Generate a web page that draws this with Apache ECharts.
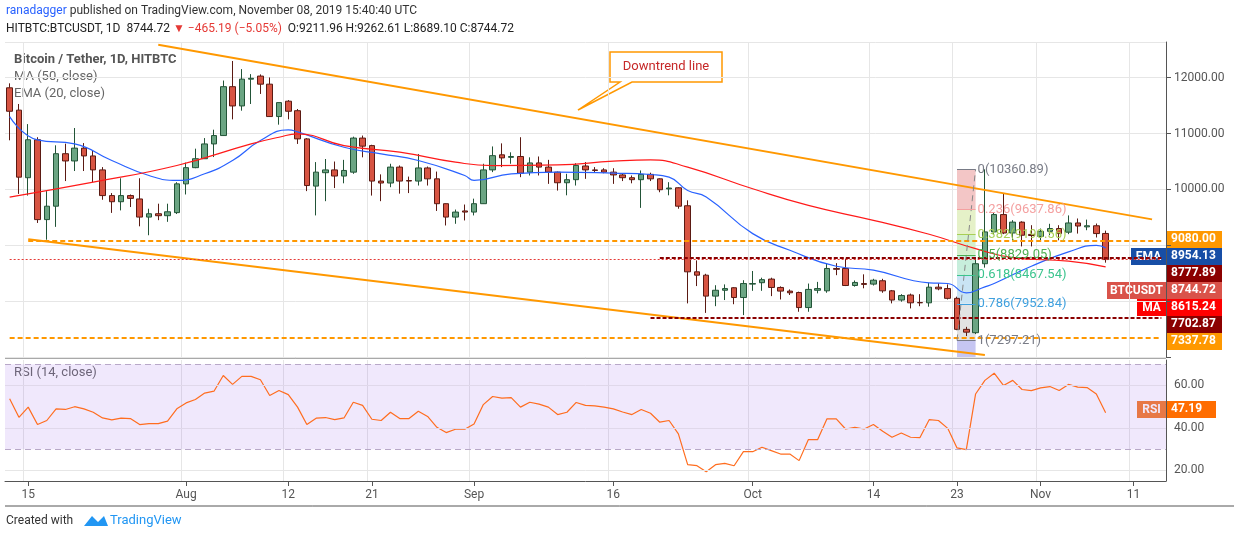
<!DOCTYPE html>
<html>
<head>
<meta charset="utf-8">
<script src="https://cdn.jsdelivr.net/npm/echarts@6/dist/echarts.min.js"></script>
<style>
  html, body { margin: 0; padding: 0; background: #fff; }
  #chart { width: 1234px; height: 540px; }
</style>
</head>
<body>
<div id="chart"></div>
<script>
// daily candles, Jul 13 .. Nov 8 2019
var opens = [11820,11420,10210,10890,9460,9700,10640,10510,10740,10600,10350,9890,9780,9890,9830,9505,9565,9530,9585,10100,10390,10550,10815,10965,11840,11495,11975,12030,11885,11305,11580,11410,
  10905,10060,10300,10350,10240,10310,10920,10785,10150,10115,10400,10160,10150,10385,10190,9745,9505,9615,9595,9745,10350,10620,10575,10590,10310,10475,10400,10310,10120,10175,10420,10350,10350,10310,10260,10210,10175,10270,10190,10010,10030,9708,
  8525,8465,8090,8195,8240,8065,8305,8330,8395,8245,8180,8155,7885,8195,8185,8585,8585,8280,8315,8305,8365,8185,8020,8110,7975,7970,8250,8225,8050,7495,7435,8670,
  9240,9550,9220,9415,9195,9160,9250,9300,9235,9400,9330,9350,9211.96];
var highs = [11900,11530,11170,10935,9970,10790,10820,11100,10830,10700,10400,9935,10200,9910,10200,9655,9745,9745,10130,10480,10730,10920,11070,11950,12300,12155,12065,12060,12005,11555,11600,11440,
  10920,10490,10545,10500,10530,10945,10965,10800,10270,10460,10430,10230,10635,10410,10320,9750,9640,9730,9835,10460,10770,10825,10665,10935,10575,10590,10530,10320,10280,10470,10490,10400,10380,10380,10290,10250,10340,10300,10200,10130,10040,9805,
  8730,8490,8285,8300,8250,8375,8540,8420,8420,8265,8210,8170,8315,8345,8675,8680,8760,8370,8480,8400,8400,8200,8125,8135,8125,8330,8320,8300,8080,7540,8790,10360,
  9590,9920,9450,9430,9360,9300,9385,9360,9535,9480,9460,9390,9262.61];
var lows = [10880,9920,9890,9400,9100,9330,10150,10330,10330,10130,9815,9580,9625,9685,9340,9180,9450,9420,9560,9910,10380,10545,10580,10960,11255,11410,11530,11710,11300,11160,11255,10815,
  9970,9535,9790,10025,10110,10280,10575,9890,9790,10040,9925,9935,10070,10070,9615,9355,9385,9445,9535,9740,10310,10400,10460,10220,10250,10250,10100,9980,9895,10070,10190,10300,10290,10100,10150,10110,9670,10150,9950,9895,9655,7960,
  8270,7790,7910,8020,7945,7750,8185,8185,8090,8030,8110,7810,7810,8140,8150,8465,8270,8260,8230,8280,8150,7960,7990,7870,7910,7900,8195,8030,7480,7375,7410,8600,
  9200,9200,9090,8980,8980,9090,9180,9090,9200,9210,9270,9140,8689.10];
var closes = [11400,10220,10890,9460,9700,10640,10510,10740,10600,10350,9890,9780,9890,9840,9505,9565,9530,9600,10100,10390,10550,10815,10965,11840,11495,11975,11990,11885,11305,11555,11400,10905,
  10070,10310,10350,10240,10340,10920,10775,10150,10115,10400,10150,10150,10385,10190,9745,9505,9595,9595,9745,10350,10605,10565,10590,10290,10475,10400,10310,10120,10175,10430,10350,10340,10310,10260,10210,10175,10270,10190,9995,10025,9700,8525,
  8465,8090,8195,8225,8065,8315,8315,8385,8245,8180,8150,7885,8210,8225,8585,8570,8280,8335,8300,8375,8185,8020,8100,7970,7970,8250,8220,8050,7495,7445,8670,9240,
  9550,9220,9415,9180,9175,9250,9300,9210,9400,9345,9350,9210,8744.72];

// MA(50) and EMA(20) read at points along the lines (day index from Jul 13)
var maDays  = [0,9,18,26,29,31,36,42,48,52,59,65,69,73,80,86,93,99,104,108,114,118];
var maVals  = [9864,10131,10429,10816,10935,10994,10786,10667,10488,10428,10440,10506,10530,10399,10012,9714,9447,9197,8940,8780,8715,8615.24];
var emaDays = [0,3,7,11,15,18,21,24,27,30,31,36,40,44,49,50,54,59,65,69,71,73,75,80,84,89,93,99,101,103,105,106,110,114,117,118];
var emaVals = [11304,10887,10816,10518,10250,10161,10280,10518,10875,11066,11030,10756,10637,10518,10250,10161,10280,10309,10292,10268,10220,9982,9863,9209,8911,8625,8554,8328,8316,8149,8256,8316,8625,8881,9000,8954.13];

// RSI(14) per day
var rsiVals = [53.7,45,49.8,41.6,43.5,49,48.7,50,49,47.4,44.7,43.8,44.6,44.4,41.6,42,42,43.2,49,51.8,53.4,56.4,57.3,64.7,60.5,64.3,64.3,62.7,55.3,57.6,55.7,49.8,41.6,44.6,44.9,43.9,44.7,52.1,50.6,44.1,43.5,47.4,44.4,44.4,47.9,45.4,40.3,37.8,39.4,39.4,41.9,51,54.8,54,54.3,49.8,52.1,51.2,49.8,46.3,47.4,52,50.6,50.4,49.8,
  49,47.5,46.3,48.7,46.9,42.7,43.5,37.2,22.7,22.2,19.4,22.7,23.3,22.2,28.8,28.8,30.9,29.3,27.7,27.7,24.6,34.5,34.5,44.3,44.3,39.5,40.3,39.5,41.6,38.4,35.6,37.6,35.6,35.4,43.9,43.5,39.8,30.6,29.8,56,62.4,65.8,60,62.4,58.1,57.6,58.9,59.5,57.6,60.5,59.2,59,56,47.19];

var tickDates = ['2019-07-15','2019-08-01','2019-08-12','2019-08-21','2019-09-01','2019-09-16','2019-10-01','2019-10-14','2019-10-23','2019-11-01','2019-11-11'];
var tickText  = ['15','Aug','12','21','Sep','16','Oct','14','23','Nov','11'];

var fibHigh = 10360.89, fibLow = 7297.21;
var fibRatios = [0, 0.236, 0.382, 0.5, 0.618, 0.786, 1];
var fibColors = ['#787b86','#f4a0a0','#a8cf55','#4caf50','#3cc48e','#3fa0de','#787b86'];
var fibFills  = ['#f3c6c6','#e5f1c8','#d4f0cc','#c7eedc','#c9e4f4','#e2e2e2'];

// categories Jul 13 .. Nov 14
var dates = [];
var d0 = Date.UTC(2019, 6, 13);
for (var i = 0; i < 125; i++) {
  var d = new Date(d0 + i * 86400000);
  dates.push(d.toISOString().slice(0, 10));
}

var candles = [];
for (var i = 0; i < opens.length; i++) candles.push([opens[i], closes[i], lows[i], highs[i]]);

function sparse(days, vals) {
  var out = dates.map(function () { return null; });
  days.forEach(function (dd, k) { out[dd] = vals[k]; });
  return out;
}

function fibPrice(r) { return fibHigh - r * (fibHigh - fibLow); }
function fmt(v) { return v.toFixed(2); }

var fibLines = [], fibAreas = [];
fibRatios.forEach(function (r, k) {
  var p = fibPrice(r);
  fibLines.push([
    { coord: ['2019-10-23', p], lineStyle: { color: fibColors[k], type: 'solid', width: 1 },
      label: { show: true, position: 'end', formatter: r + '(' + fmt(p) + ')', color: fibColors[k], fontSize: 13, distance: 2 } },
    { coord: ['2019-10-25', p] }
  ]);
  if (k < fibFills.length) {
    fibAreas.push([{ coord: ['2019-10-23', p], itemStyle: { color: fibFills[k] } }, { coord: ['2019-10-25', fibPrice(fibRatios[k + 1])] }]);
  }
});
fibAreas.push([{ coord: ['2019-10-23', fibLow], itemStyle: { color: '#c6c6f2' } }, { coord: ['2019-10-25', 7000] }]);

function seg(a, b, color, type, width) {
  return [{ coord: a, lineStyle: { color: color, type: type, width: width } }, { coord: b }];
}
var lastDay = dates[dates.length - 1];
var lines = [
  seg(['2019-07-29', 12589], ['2019-11-13', 9464], '#ff9800', 'solid', 2),
  seg(['2019-07-15', 9107], ['2019-10-26', 7036], '#ff9800', 'solid', 2),
  seg(['2019-07-15', 9080], [lastDay, 9080], '#ff9800', [5, 3], 2),
  seg([dates[0], 7337.78], [lastDay, 7337.78], '#ff9800', [5, 3], 2),
  seg(['2019-09-21', 8777.89], [lastDay, 8777.89], '#8b0000', [4, 2], 2),
  seg(['2019-09-20', 7702.87], [lastDay, 7702.87], '#8b0000', [4, 2], 2),
  seg([dates[0], 8744.72], [lastDay, 8744.72], '#e53935', [2, 2], 1),
  seg(['2019-10-23', fibLow], ['2019-10-25', fibHigh], '#888', [6, 4], 1)
].concat(fibLines);

function showTick(idx, val) { return tickDates.indexOf(val) >= 0; }

var chart = echarts.init(document.getElementById('chart'));
var font = 'Roboto, "Noto Sans", sans-serif';

function badge(y, text, color, w, x) {
  x = x || 1166;
  return { type: 'group', children: [
    { type: 'rect', shape: { x: x, y: y, width: w || 56, height: 17 }, style: { fill: color } },
    { type: 'text', x: x + 5, y: y + 2, style: { text: text, fill: '#fff', font: 'bold 12px ' + font } }
  ] };
}
function tag(x, y, w, text, color) {
  return { type: 'group', children: [
    { type: 'rect', shape: { x: x, y: y, width: w, height: 17 }, style: { fill: color } },
    { type: 'text', x: x + w / 2, y: y + 9, style: { text: text, fill: '#fff', font: 'bold 12px ' + font, textAlign: 'center', textVerticalAlign: 'middle' } }
  ] };
}

chart.setOption({
  animation: false,
  textStyle: { fontFamily: font },
  grid: [
    { left: 5, right: 68, top: 42, height: 315 },
    { left: 5, right: 68, top: 360, height: 121 }
  ],
  xAxis: [
    { type: 'category', data: dates, gridIndex: 0, boundaryGap: true,
      axisLine: { show: false }, axisTick: { show: false }, axisLabel: { show: false },
      splitLine: { show: true, interval: showTick, lineStyle: { color: '#e6e6e6' } } },
    { type: 'category', data: dates, gridIndex: 1, boundaryGap: true,
      axisLine: { lineStyle: { color: '#555' } }, axisTick: { show: true, interval: showTick, alignWithLabel: true, lineStyle: { color: '#555' } },
      axisLabel: { interval: showTick, color: '#555', fontSize: 12, margin: 8,
        formatter: function (v) { return tickText[tickDates.indexOf(v)]; } },
      splitLine: { show: true, interval: showTick, lineStyle: { color: '#e6e6e6' } } }
  ],
  yAxis: [
    { type: 'value', gridIndex: 0, position: 'right', min: 7000, max: 12640, interval: 1000,
      axisLine: { show: true, lineStyle: { color: '#555' } }, axisTick: { show: true, lineStyle: { color: '#555' } },
      axisLabel: { color: '#555', fontSize: 12, showMaxLabel: false,
        formatter: function (v) { return v >= 10000 ? v.toFixed(2) : ''; } },
      splitLine: { lineStyle: { color: '#e6e6e6' } } },
    { type: 'value', gridIndex: 1, position: 'right', min: 15, max: 72,
      axisLine: { show: true, lineStyle: { color: '#555' } }, axisTick: { show: false },
      axisLabel: { show: false }, splitLine: { show: false } }
  ],
  series: [
    { type: 'candlestick', xAxisIndex: 0, yAxisIndex: 0, data: candles, barWidth: 6,
      itemStyle: { color: '#6ba583', color0: '#d75442', borderColor: '#225437', borderColor0: '#5b1a13', borderWidth: 1 },
      markArea: { silent: true, data: fibAreas },
      markLine: { silent: true, symbol: 'none', label: { show: false }, data: lines } },
    { type: 'line', xAxisIndex: 0, yAxisIndex: 0, data: sparse(emaDays, emaVals), connectNulls: true, smooth: true,
      showSymbol: false, lineStyle: { color: '#2962ff', width: 1.2 }, z: 3 },
    { type: 'line', xAxisIndex: 0, yAxisIndex: 0, data: sparse(maDays, maVals), connectNulls: true, smooth: true,
      showSymbol: false, lineStyle: { color: '#ff1a1a', width: 1.2 }, z: 3 },
    { type: 'line', xAxisIndex: 1, yAxisIndex: 1, data: rsiVals, showSymbol: false,
      lineStyle: { color: '#ff6d1f', width: 1.2 },
      markArea: { silent: true, itemStyle: { color: 'rgba(155,100,235,0.15)' }, data: [[{ yAxis: 30 }, { yAxis: 70 }]] },
      markLine: { silent: true, symbol: 'none', data: [
        { yAxis: 70, lineStyle: { color: '#b8a8c8', type: [6, 4], width: 1 }, label: { show: false } },
        { yAxis: 30, lineStyle: { color: '#b8a8c8', type: [6, 4], width: 1 }, label: { show: false } },
        { yAxis: 60, lineStyle: { color: '#e0d8ea', type: 'solid', width: 1 }, label: { show: true, position: 'end', color: '#555', fontSize: 12, formatter: '60.00', distance: 8 } },
        { yAxis: 40, lineStyle: { color: '#e0d8ea', type: 'solid', width: 1 }, label: { show: true, position: 'end', color: '#555', fontSize: 12, formatter: '40.00', distance: 8 } },
        { yAxis: 20, lineStyle: { color: '#e6e6e6', type: 'solid', width: 1 }, label: { show: true, position: 'end', color: '#555', fontSize: 12, formatter: '20.00', distance: 8 } }
      ] } }
  ],
  graphic: [
    { type: 'text', left: 6, top: 5, style: { text: '{b|ranadagger} published on TradingView.com, November 08, 2019 15:40:40 UTC',
      font: '12px ' + font, fill: '#333', rich: { b: { fill: '#2962ff', font: '12px ' + font } } } },
    { type: 'text', left: 6, top: 23, style: { text: 'HITBTC:BTCUSDT, 1D  8744.72 {r|▼ −465.19 (−5.05%)}  O:9211.96 H:9262.61 L:8689.10 C:8744.72',
      font: '12px ' + font, fill: '#222', rich: { r: { fill: '#e53935', font: '12px ' + font } } } },
    { type: 'text', left: 14, top: 53, style: { text: 'Bitcoin / Tether, 1D, HITBTC', font: 'bold 13px ' + font, fill: '#555' } },
    { type: 'text', left: 14, top: 70, style: { text: 'MA (50, close)', font: '13px ' + font, fill: '#666' } },
    { type: 'text', left: 14, top: 87, style: { text: 'EMA (20, close)', font: '13px ' + font, fill: '#666' } },
    { type: 'text', left: 14, top: 366, style: { text: 'RSI (14, close)', font: '13px ' + font, fill: '#666' } },
    { type: 'polygon', shape: { points: [[610, 52], [722, 52], [722, 82], [632, 82], [578, 110], [620, 82], [610, 82]] },
      style: { fill: '#fff', stroke: '#ff9800', lineWidth: 1.5 } },
    { type: 'text', x: 666, y: 67, style: { text: 'Downtrend line', font: '13px ' + font, fill: '#c62828', textAlign: 'center', textVerticalAlign: 'middle' } },
    badge(231, '9080.00', '#ff9800'),
    badge(248, '8954.13', '#174ea6'),
    tag(1131, 248, 35, 'EMA', '#174ea6'),
    badge(265, '8777.89', '#8b0000'),
    badge(282, '8744.72', '#d9534a'),
    tag(1107, 282, 59, 'BTCUSDT', '#d9534a'),
    badge(299, '8615.24', '#ff0000'),
    tag(1137, 299, 29, 'MA', '#ff0000'),
    badge(316, '7702.87', '#8b0000'),
    badge(333, '7337.78', '#ff9800'),
    badge(401, '47.19', '#ff6d00', 50),
    tag(1137, 401, 29, 'RSI', '#f57c2a'),
    { type: 'line', shape: { x1: 5, y1: 358, x2: 1166, y2: 358 }, style: { stroke: '#555', lineWidth: 1 } },
    { type: 'line', shape: { x1: 5, y1: 506, x2: 1234, y2: 506 }, style: { stroke: '#555', lineWidth: 1 } },
    { type: 'text', left: 6, top: 515, style: { text: 'Created with', font: '12px ' + font, fill: '#333' } },
    { type: 'text', left: 110, top: 514, style: { text: 'TradingView', font: '13px ' + font, fill: '#2196f3' } },
    { type: 'polygon', shape: { points: [[84, 526], [92, 516], [98, 522], [104, 516], [108, 526]] }, style: { fill: '#2196f3' } }
  ]
});
</script>
</body>
</html>
